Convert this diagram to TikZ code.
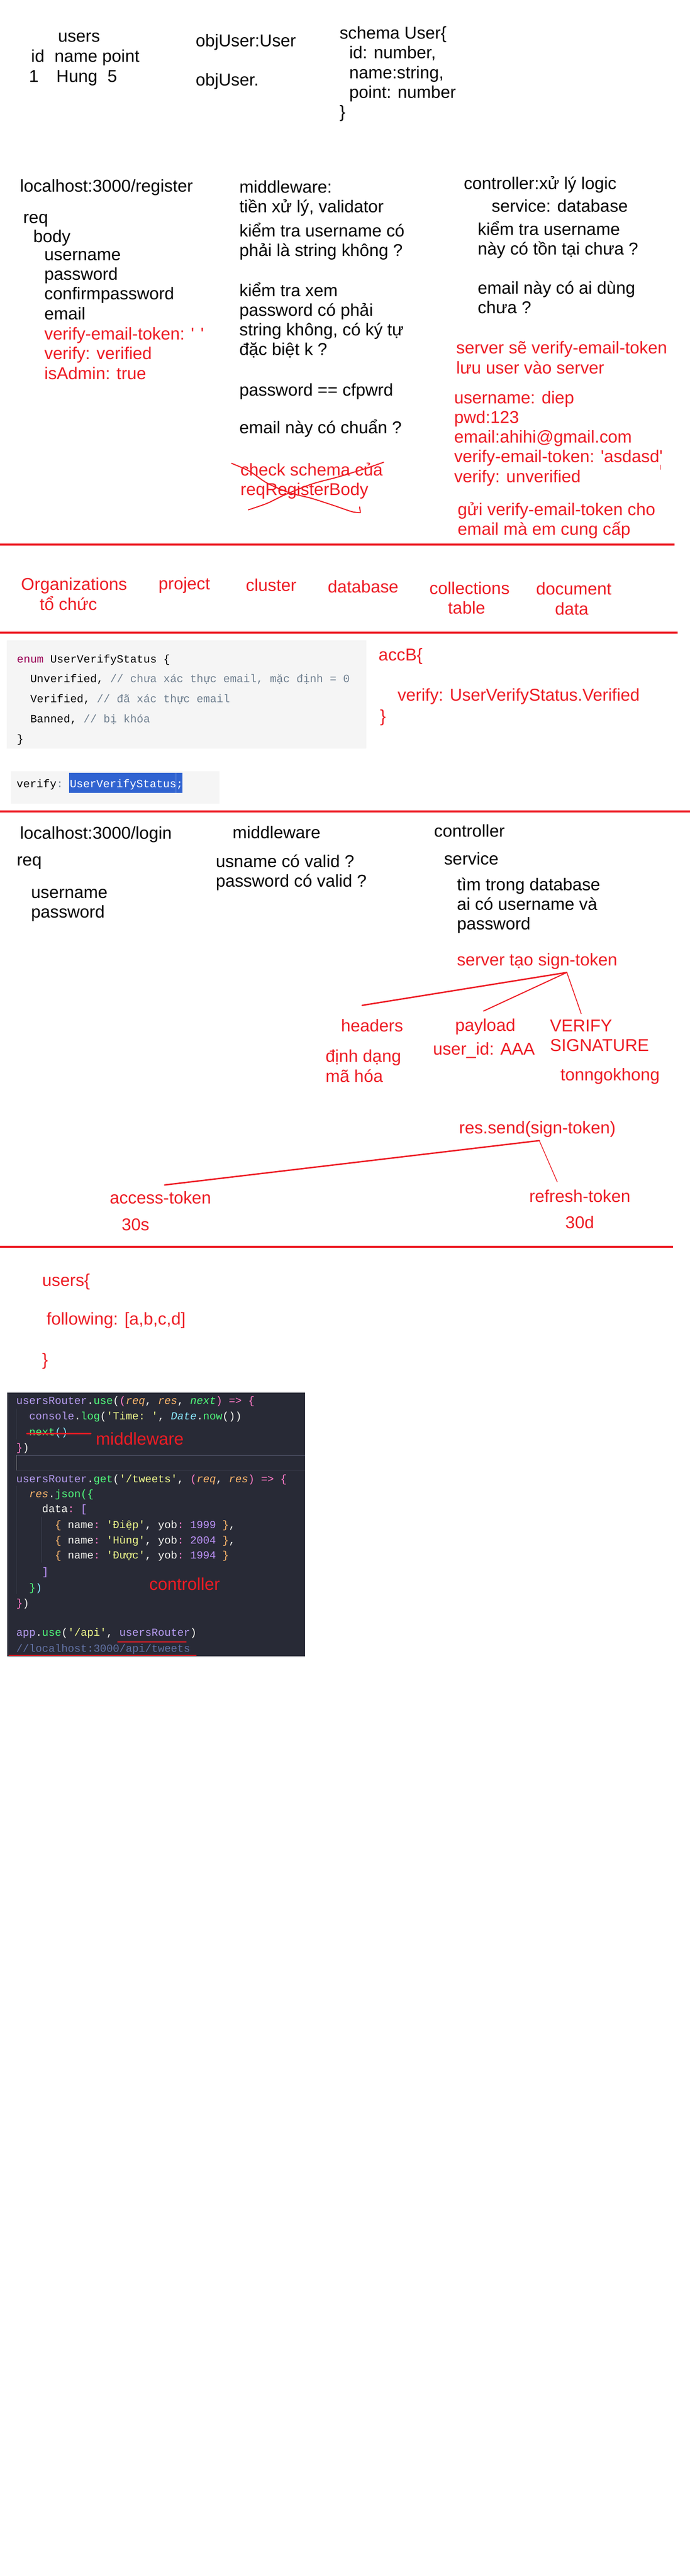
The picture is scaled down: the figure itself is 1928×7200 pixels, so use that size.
\documentclass[tikz,border=0pt]{standalone}
\usepackage{fontspec}
\setmainfont{Liberation Sans}[Ligatures=TeXOff]
\setmonofont{Liberation Mono}

\definecolor{pRed}{HTML}{ED1C24}
\definecolor{enumKw}{HTML}{990055}
\definecolor{enumCm}{HTML}{708090}
\definecolor{lightBg}{HTML}{F5F5F5}
\definecolor{selBlue}{HTML}{3063D1}
\definecolor{cdBg}{HTML}{282A36}
\definecolor{cdLine}{HTML}{44475A}
\definecolor{cdGuide}{HTML}{3B3E4E}
\definecolor{cdFg}{HTML}{F8F8F2}
\definecolor{cdVar}{HTML}{B69CF0}
\definecolor{cdFn}{HTML}{50FA7B}
\definecolor{cdPar}{HTML}{FFB86C}
\definecolor{cdPk}{HTML}{FF79C6}
\definecolor{cdStr}{HTML}{F1FA8C}
\definecolor{cdCy}{HTML}{8BE9FD}
\definecolor{cdNum}{HTML}{BD93F9}
\definecolor{cdCm}{HTML}{6272A4}

\newcommand\tkVar[1]{\textcolor{cdVar}{#1}}
\newcommand\tkFn[1]{\textcolor{cdFn}{#1}}
\newcommand\tkFnI[1]{\textcolor{cdFn}{\itshape #1}}
\newcommand\tkPar[1]{\textcolor{cdPar}{\itshape #1}}
\newcommand\tkOr[1]{\textcolor{cdPar}{#1}}
\newcommand\tkPk[1]{\textcolor{cdPk}{#1}}
\newcommand\tkStr[1]{\textcolor{cdStr}{#1}}
\newcommand\tkCy[1]{\textcolor{cdCy}{#1}}
\newcommand\tkCyI[1]{\textcolor{cdCy}{\itshape #1}}
\newcommand\tkNum[1]{\textcolor{cdNum}{#1}}
\newcommand\tkCm[1]{\textcolor{cdCm}{#1}}

\tikzset{
  txt/.style={anchor=base west, inner sep=0pt, outer sep=0pt, align=left, font=\fontsize{24}{27.5}\selectfont},
  rtxt/.style={txt, text=pRed},
  dn/.style={yshift=-#1*27.5pt},
  sepline/.style={draw=pRed, line width=2.5pt},
  pen/.style={draw=pRed, line width=#1, line cap=round, line join=round},
  enumline/.style={anchor=base west, inner sep=0pt, align=left, font=\ttfamily\fontsize{15.5}{27.9}\selectfont},
  cl/.style={anchor=base west, inner sep=0pt, text=cdFg, font=\ttfamily\fontsize{15}{20}\selectfont},
}

\begin{document}
\begin{tikzpicture}[x=0.5pt, y=-0.5pt]
\useasboundingbox (0,0) rectangle (1928,7200);

% users table, object, schema
\node[txt] (tbl) at (162,118) {users};
\node[txt] (tblh) at (87,174) {id\hspace*{14pt}name point};
\node[txt] (tblr) at (81,230) {1\hspace*{25pt}Hung\hspace*{14pt}5};
\node[txt] (obj) at (547,130) {objUser:User};
\node[txt] (objd) at (547,240) {objUser.};
\node[txt, dn=4] (schema) at (949,109) {schema User\{\\\hspace*{13.5pt}id: number,\\\hspace*{13.5pt}name:string,\\\hspace*{13.5pt}point: number\\\}};

% register
\node[txt] (reg) at (56,537) {localhost:3000/register};
\node[txt] (rq) at (65,624) {req};
\node[txt] (bd) at (93,678) {body};
\node[txt, dn=3] (fld) at (124,728) {username\\password\\confirmpassword\\email};
\node[rtxt, dn=2] (fldr) at (124,950) {verify-email-token: ' '\\verify: verified\\isAdmin: true};

\node[txt, dn=1] (mw) at (669,539) {middleware:\\tiền xử lý, validator};
\node[txt, dn=1] (mw1) at (669,662) {kiểm tra username có\\phải là string không ?};
\node[txt, dn=3] (mw2) at (669,828) {kiểm tra xem\\password có phải\\string không, có ký tự\\đặc biệt k ?};
\node[txt] (mw3) at (669,1107) {password == cfpwrd};
\node[txt] (mw4) at (669,1212) {email này có chuẩn ?};
\node[rtxt, dn=1] (mw5) at (672,1330) {check schema của\\reqRegisterBody};
\draw[pen=1.5pt] plot[smooth] coordinates {(647,1295) (697,1317) (746,1350) (808,1377) (871,1393) (933,1413) (983,1430) (1007,1433)} -- (1005,1417);
\draw[pen=1.5pt] plot[smooth] coordinates {(694,1425) (746,1407) (796,1383) (871,1353) (945,1333) (1020,1310) (1072,1292)};

\node[txt] (ctl) at (1296,529) {controller:xử lý logic};
\node[txt] (svc) at (1374,593) {service: database};
\node[txt, dn=1] (svc1) at (1335,657) {kiểm tra username\\này có tồn tại chưa ?};
\node[txt, dn=1] (svc2) at (1335,821) {email này có ai dùng\\chưa ?};
\node[rtxt, dn=1] (srv) at (1275,989) {server sẽ verify-email-token\\lưu user vào server};
\node[rtxt, dn=4] (dat) at (1269,1128) {username: diep\\pwd:123\\email:ahihi@gmail.com\\verify-email-token: 'asdasd'\\verify: unverified};
\draw[pen=1pt] (1845,1300) -- (1845,1312);
\node[rtxt, dn=1] (mail) at (1279,1440) {gửi verify-email-token cho\\email mà em cung cấp};

\draw[sepline] (0,1522) -- (1885,1522);

% mongo hierarchy
\node[rtxt, dn=1] (org) at (59,1650) {Organizations\\\hspace*{26pt}tổ chức};
\node[rtxt] (prj) at (443,1648) {project};
\node[rtxt] (cls) at (687,1653) {cluster};
\node[rtxt] (dbs) at (916,1656) {database};
\node[rtxt, dn=1] (col) at (1200,1661) {collections\\\hspace*{26pt}table};
\node[rtxt, dn=1] (doc) at (1498,1663) {document\\\hspace*{26.5pt}data};

\draw[sepline] (0,1768) -- (1894,1768);

% enum
\fill[lightBg] (18,1790) rectangle (1024,2092);
\node[enumline, yshift=-111.6pt] (enm) at (47,1852) {\textcolor{enumKw}{enum} UserVerifyStatus \{\\
\phantom{xx}Unverified, \textcolor{enumCm}{// chưa xác thực email, mặc định = 0}\\
\phantom{xx}Verified, \textcolor{enumCm}{// đã xác thực email}\\
\phantom{xx}Banned, \textcolor{enumCm}{// bị khóa}\\
\}};
\node[rtxt] (acc) at (1058,1847) {accB\{};
\node[rtxt] (accv) at (1111,1959) {verify: UserVerifyStatus.Verified};
\node[rtxt] (acce) at (1062,2018) {\}};

\fill[lightBg] (30,2156) rectangle (613,2246);
\fill[selBlue] (193,2160) rectangle (510,2216);
\draw[draw=selBlue!70!white, line width=0.6pt] (492,2160) -- (492,2216);
\node[enumline] (vfy) at (46,2201) {verify\textcolor{enumCm}{:} \textcolor{white}{UserVerifyStatus;}};

\draw[sepline] (0,2268) -- (1928,2268);

% login
\node[txt] (lgn) at (56,2345) {localhost:3000/login};
\node[txt] (lrq) at (47,2420) {req};
\node[txt, dn=1] (lfld) at (87,2511) {username\\password};
\node[txt] (lmw) at (650,2344) {middleware};
\node[txt, dn=1] (lmw1) at (603,2424) {usname có valid ?\\password có valid ?};
\node[txt] (lctl) at (1213,2339) {controller};
\node[txt] (lsvc) at (1241,2417) {service};
\node[txt, dn=2] (lsvc1) at (1277,2489) {tìm trong database\\ai có username và\\password};
\node[rtxt] (sign) at (1277,2699) {server tạo sign-token};

\coordinate (sgn) at (1584,2718);
\coordinate (hdE) at (1012,2810);
\coordinate (plE) at (1351,2826);
\coordinate (vsE) at (1624,2833);
\draw[pen=2pt] (sgn) -- (hdE);
\draw[pen=1.5pt] (sgn) -- (plE);
\draw[pen=1.2pt] (sgn) -- (vsE);

\node[rtxt] (hdr) at (953,2884) {headers};
\node[rtxt] (pld) at (1272,2882) {payload};
\node[rtxt, dn=1] (vsig) at (1537,2884) {VERIFY\\SIGNATURE};
\node[rtxt] (uid) at (1210,2949) {user\_id: AAA};
\node[rtxt, dn=1] (fmt) at (910,2969) {định dạng\\mã hóa};
\node[rtxt] (tng) at (1566,3021) {tonngokhong};

\node[rtxt] (rsend) at (1283,3168) {res.send(sign-token)};
\coordinate (snd) at (1507,3188);
\coordinate (acE) at (460,3312);
\coordinate (rfE) at (1557,3303);
\draw[pen=2pt] (snd) -- (acE);
\draw[pen=1pt] (snd) -- (rfE);
\node[rtxt] (acc1) at (307,3364) {access-token};
\node[rtxt] (acc2) at (340,3440) {30s};
\node[rtxt] (ref1) at (1479,3360) {refresh-token};
\node[rtxt] (ref2) at (1580,3433) {30d};

\draw[sepline] (0,3485) -- (1881,3485);

% following
\node[rtxt] (usr) at (118,3595) {users\{};
\node[rtxt] (flw) at (130,3703) {following: [a,b,c,d]};
\node[rtxt] (usre) at (118,3817) {\}};

% express code
\fill[cdBg] (20,3892) rectangle (852,4630);
\draw[cdGuide, line width=0.6pt] (45,3937) -- (45,4023);
\draw[cdGuide, line width=0.6pt] (45,4153) -- (45,4455);
\draw[cdGuide, line width=0.6pt] (116,4240) -- (116,4368);
\draw[cdLine, line width=1.2pt] (45,4068) -- (852,4068);
\draw[cdLine, line width=1.2pt] (45,4109) -- (852,4109);
\draw[gray!80, line width=1pt] (45,4068) -- (45,4109);

\node[cl] (c1) at (45,3925) {\tkVar{usersRouter}.\tkFn{use}(\tkPk{(}\tkPar{req}, \tkPar{res}, \tkFnI{next}\tkPk{)} \tkPk{=>} \tkPk{\{}};
\node[cl] (c2) at (45,3968) {\phantom{xx}\tkVar{console}.\tkFn{log}(\tkStr{'Time: '}, \tkCyI{Date}.\tkFn{now}())};
\node[cl] (c3) at (45,4012) {\phantom{xx}\tkFn{next}\tkCy{()}};
\node[cl] (c4) at (45,4055) {\tkPk{\}})};
\node[cl] (c6) at (45,4143) {\tkVar{usersRouter}.\tkFn{get}(\tkStr{'/tweets'}, \tkPk{(}\tkPar{req}, \tkPar{res}\tkPk{)} \tkPk{=>} \tkPk{\{}};
\node[cl] (c7) at (45,4185) {\phantom{xx}\tkPar{res}.\tkFn{json}\tkFn{(\{}};
\node[cl] (c8) at (45,4227) {\phantom{xxxx}data\tkPk{:} \tkNum{[}};
\node[cl] (c9) at (45,4272) {\phantom{xxxxxx}\tkOr{\{} name\tkPk{:} \tkStr{'Điệp'}, yob\tkPk{:} \tkNum{1999} \tkOr{\}},};
\node[cl] (c10) at (45,4315) {\phantom{xxxxxx}\tkOr{\{} name\tkPk{:} \tkStr{'Hùng'}, yob\tkPk{:} \tkNum{2004} \tkOr{\}},};
\node[cl] (c11) at (45,4357) {\phantom{xxxxxx}\tkOr{\{} name\tkPk{:} \tkStr{'Được'}, yob\tkPk{:} \tkNum{1994} \tkOr{\}}};
\node[cl] (c12) at (45,4403) {\phantom{xxxx}\tkNum{]}};
\node[cl] (c13) at (45,4447) {\phantom{xx}\tkFn{\}}\tkCy{)}};
\node[cl] (c14) at (45,4490) {\tkPk{\}})};
\node[cl] (c16) at (45,4573) {\tkVar{app}.\tkFn{use}(\tkStr{'/api'}, \tkVar{usersRouter})};
\node[cl] (c17) at (45,4617) {\tkCm{//localhost:3000/api/tweets}};

\draw[pen=1.75pt] (75,4007) -- (254,4007);
\node[rtxt] (mwl) at (268,4038) {middleware};
\node[rtxt] (ctll) at (417,4444) {controller};
\draw[pen=1.5pt] (329,4589) -- (520,4589);
\draw[pen=1.5pt] (25,4627) -- (548,4627);
\end{tikzpicture}
\end{document}
